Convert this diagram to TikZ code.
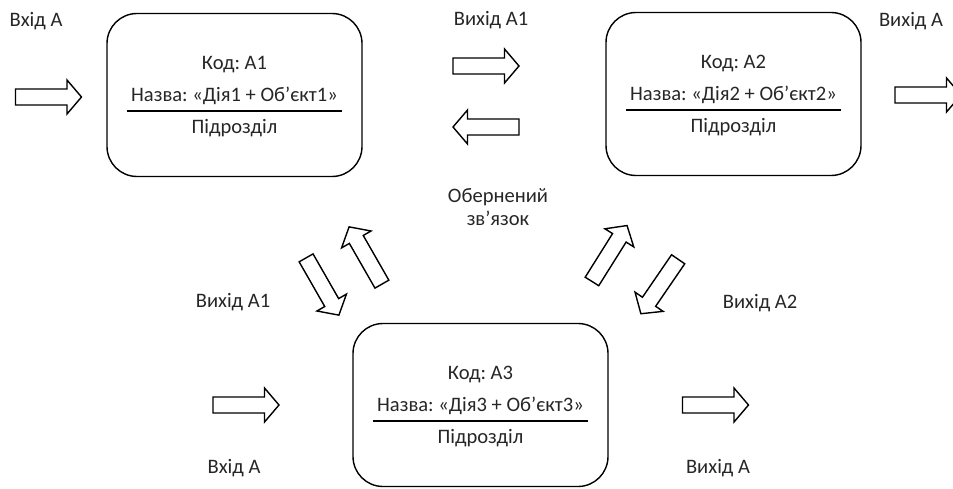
\documentclass[tikz,border=0pt]{standalone}
\usepackage{fontspec}
\setmainfont{Carlito}
\usepackage{tikz}
\usetikzlibrary{positioning}

\tikzset{
  pics/barrow/.style={code={
    \draw[draw=black,line width=0.8pt,line join=miter,fill=white]
      (-0.66,-0.16) -- (0.37,-0.16) -- (0.37,-0.34) -- (0.66,0) -- (0.37,0.34) -- (0.37,0.16) -- (-0.66,0.16) -- cycle;
  }}
}

\begin{document}
\frenchspacing
\begin{tikzpicture}[
  font=\fontsize{11.7}{14}\selectfont,
  blok/.style={draw=black,line width=0.8pt,rounded corners=0.6cm,minimum width=5.1cm,minimum height=3.26cm,inner sep=0pt},
  txt/.style={inner sep=1pt,text=black!85},
  rule/.style={draw=black,line width=1.4pt}
]
\useasboundingbox (0,0) rectangle (19.06,-9.76);

% blocks
\foreach \n/\x/\y in {1/4.69/-1.90,2/14.67/-1.88,3/9.61/-8.10}{
  \node[blok] (a\n) at (\x,\y) {};
  \node[txt] (k\n) at (\x,{\y+0.60}) {Код: А\n};
  \node[txt] (n\n) at (\x,{\y-0.02}) {Назва: «Дія\n{} + Об’єкт\n»};
  \node[txt] (p\n) at (\x,{\y-0.66}) {Підрозділ};
  \draw[rule] ([xshift=-2.15cm,yshift=-0.32cm]a\n.center) -- ([xshift=2.15cm,yshift=-0.32cm]a\n.center);
}

% inputs / outputs
\pic (in1) at (0.97,-1.94) {barrow};
\node[txt] (lin1) at (0.72,-0.42) {Вхід А};
\pic (out2) at (18.56,-1.90) {barrow};
\node[txt] (lout2) at (18.22,-0.42) {Вихід А};
\pic (in3) at (4.92,-8.10) {barrow};
\node[txt] (lin3) at (4.68,-9.36) {Вхід А};
\pic (out3) at (14.31,-8.10) {barrow};
\node[txt] (lout3) at (14.36,-9.36) {Вихід А};

% links between blocks
\pic (f12) at (9.72,-1.32) {barrow};
\pic[rotate=180] (b21) at (9.72,-2.54) {barrow};
\node[txt] (lf12) at (9.82,-0.40) {Вихід А1};
\node[txt,align=center] (lfb) at (9.96,-4.14) {Обернений\\[-1pt]зв’язок};

\pic[rotate=-60.2] (f13) at (6.45,-5.73) {barrow};
\pic[rotate=119.8] (b31) at (7.31,-5.11) {barrow};
\node[txt] (lf13) at (4.66,-6.04) {Вихід А1};

\pic[rotate=57.9] (b32) at (12.19,-5.07) {barrow};
\pic[rotate=235.6] (f23) at (13.19,-5.73) {barrow};
\node[txt] (lf23) at (15.20,-6.06) {Вихід А2};
\end{tikzpicture}
\end{document}
